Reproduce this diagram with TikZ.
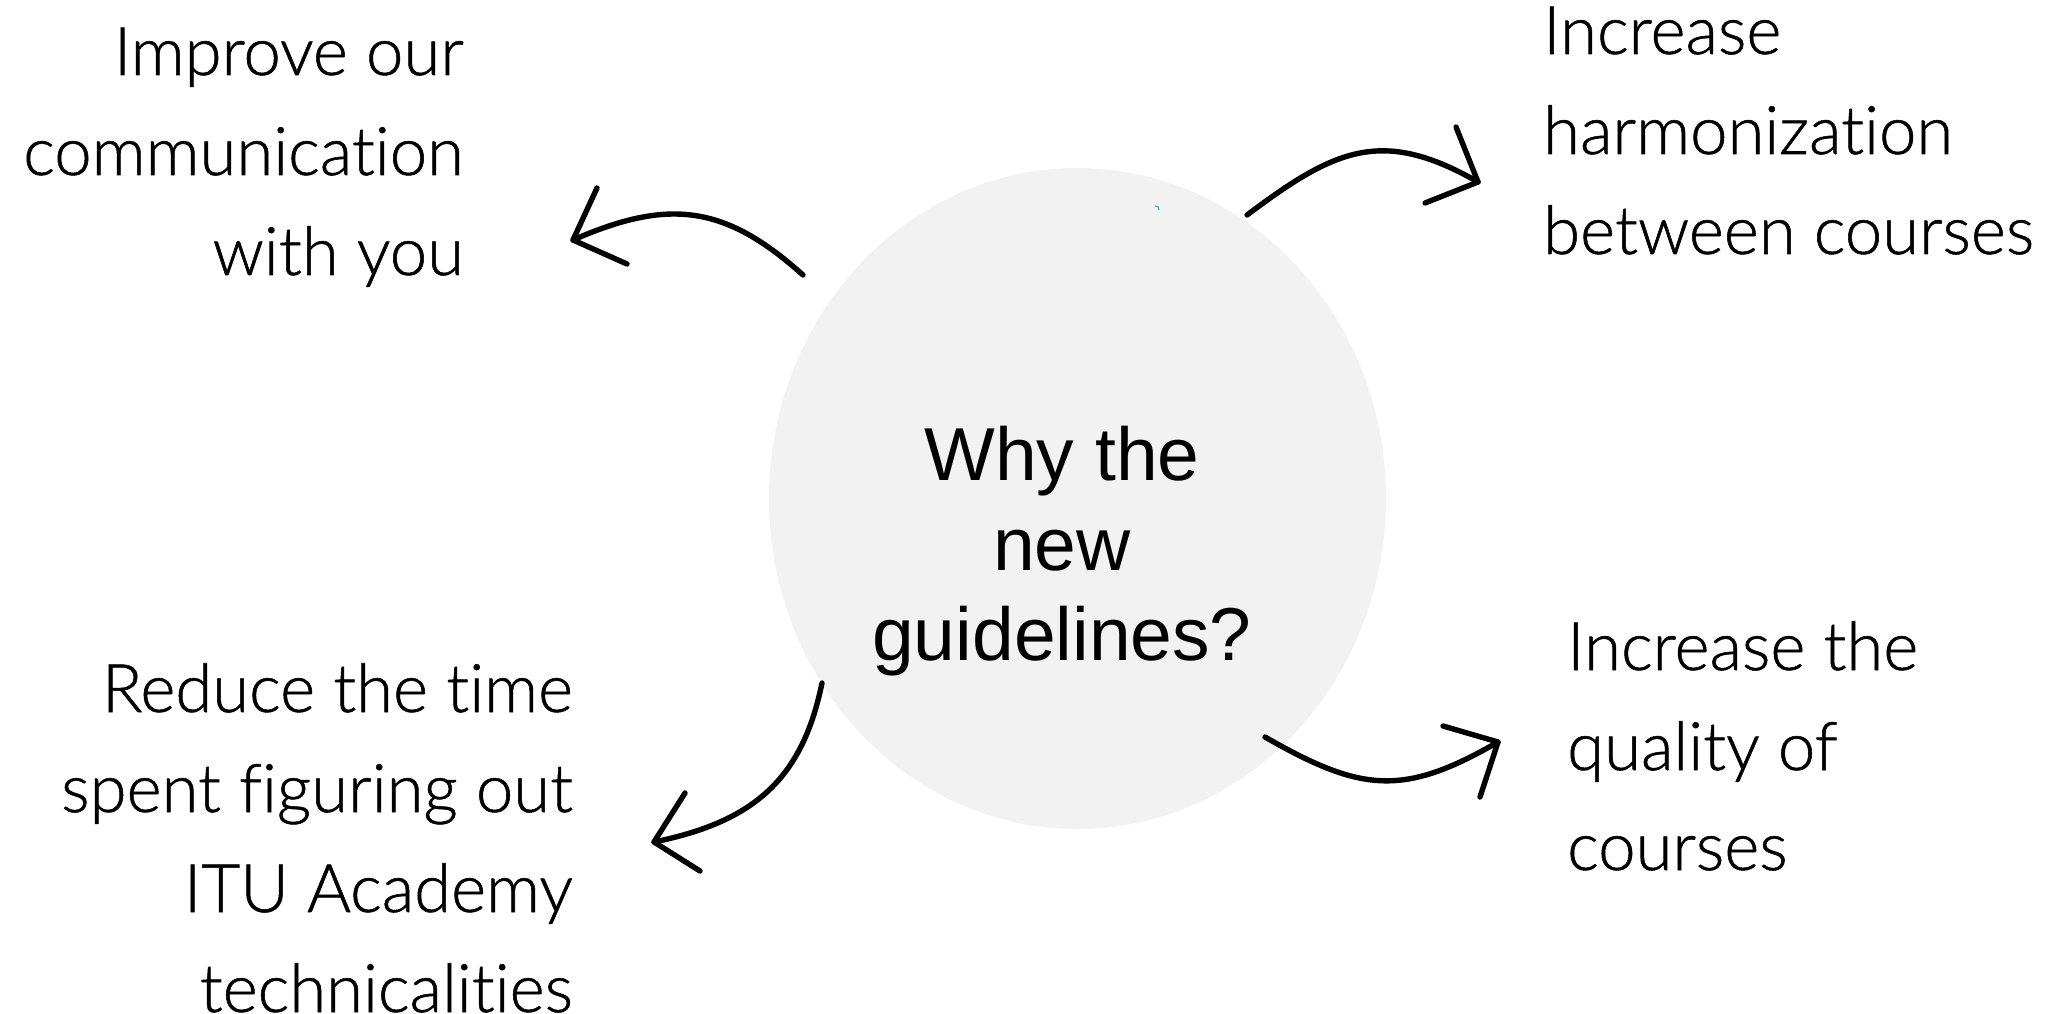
\documentclass[tikz,border=0pt]{standalone}
\usepackage{fontspec}
\setmainfont{Liberation Sans}
\newfontfamily\lite{Lato Light}[Ligatures=NoCommon, FakeBold=0.8]
\usetikzlibrary{shapes.geometric}
\definecolor{bubble}{HTML}{F2F2F2}
\definecolor{speck}{HTML}{3FA9DF}
\begin{document}
\begin{tikzpicture}[x=1pt,y=-1pt,
  arrowline/.style={line width=5.4pt, line cap=round, line join=round, black},
  sidetext/.style={inner sep=0pt, font=\lite\fontsize{67}{100}\selectfont},
  hubtext/.style={inner sep=0pt, font=\fontsize{75}{90}\selectfont}]
\useasboundingbox (0,0) rectangle (2051,1014);
\node[ellipse, fill=bubble, minimum width=617pt, minimum height=661pt, inner sep=0pt] (hub) at (1077.5,498.5) {};
\node[hubtext, anchor=base] (q) at (1062,480) {\begin{tabular}[t]{@{}c@{}}Why the\\new\\guidelines?\end{tabular}};
\node[sidetext, anchor=base east] (tl) at (464,75) {\begin{tabular}[t]{@{}r@{}}Improve our\\communication\\with you\end{tabular}};
\node[sidetext, anchor=base west] (tr) at (1543,54) {\begin{tabular}[t]{@{}l@{}}Increase\\harmonization\\between courses\end{tabular}};
\node[sidetext, anchor=base east] (bl) at (573,712) {\begin{tabular}[t]{@{}r@{}}Reduce the time\\spent figuring out\\ITU Academy\\technicalities\end{tabular}};
\node[sidetext, anchor=base west] (br) at (1567,670) {\begin{tabular}[t]{@{}l@{}}Increase the\\quality of\\courses\end{tabular}};
% arrow 1 (to top-left)
\coordinate (a1s) at (803,275);
\coordinate (a1t) at (573,240);
\draw[arrowline] (a1s) .. controls (725,205) and (669,198) .. (a1t);
\draw[arrowline] (597,188) -- (a1t) -- (627,264);
% arrow 2 (to top-right)
\coordinate (a2s) at (1247,215);
\coordinate (a2t) at (1478,182);
\draw[arrowline] (a2s) .. controls (1335,149) and (1382,127) .. (a2t);
\draw[arrowline] (1456,127) -- (a2t) -- (1425,203);
% arrow 3 (to bottom-left)
\coordinate (a3s) at (822,683);
\coordinate (a3t) at (654,842);
\draw[arrowline] (a3s) .. controls (802,781) and (752,822) .. (a3t);
\draw[arrowline] (685,793) -- (a3t) -- (700,871);
% arrow 4 (to bottom-right)
\coordinate (a4s) at (1265,737);
\coordinate (a4t) at (1498,742);
\draw[arrowline] (a4s) .. controls (1361,792) and (1403,797) .. (a4t);
\draw[arrowline] (1443,726) -- (a4t) -- (1480,797);
% small speck
\draw[speck, line width=1.2pt] (1155,206) .. controls (1158,206) .. (1159,210);
\end{tikzpicture}
\end{document}
